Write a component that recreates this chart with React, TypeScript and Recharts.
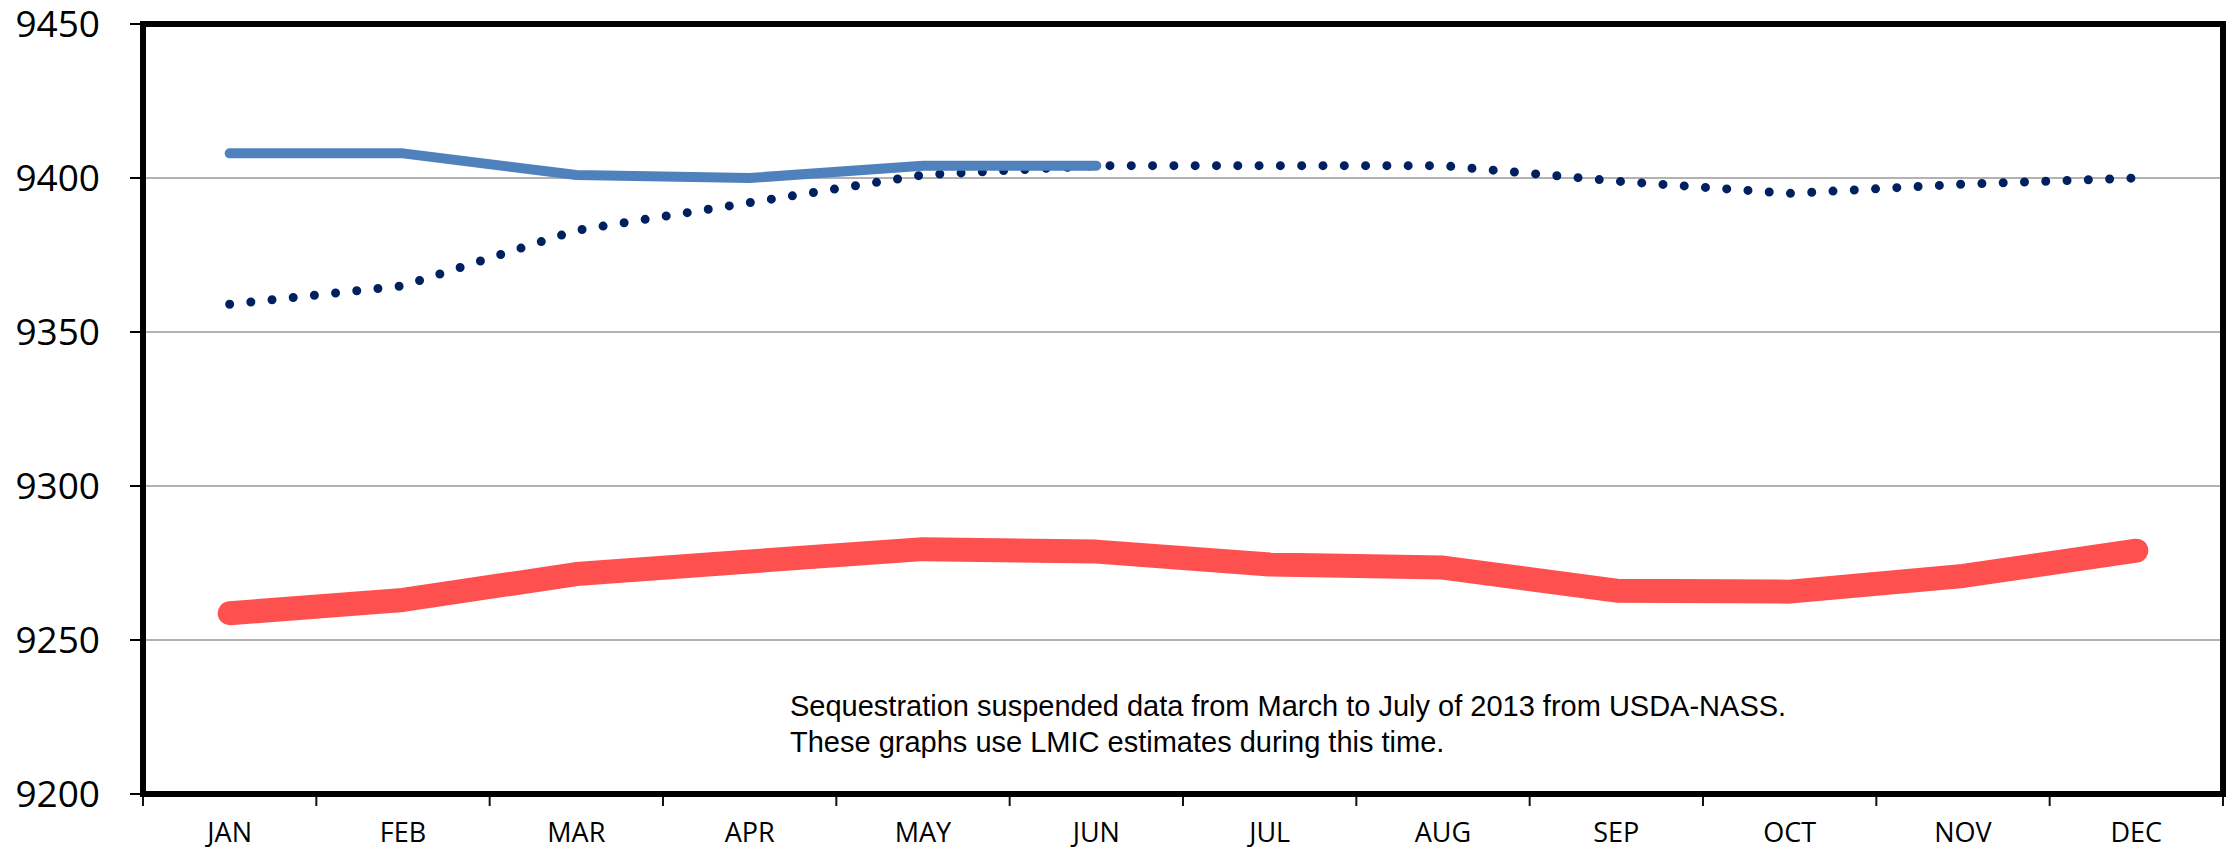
import {
  LineChart,
  Line,
  XAxis,
  YAxis,
  CartesianGrid,
  ReferenceArea,
} from "recharts";

const months = ["JAN", "FEB", "MAR", "APR", "MAY", "JUN", "JUL", "AUG", "SEP", "OCT", "NOV", "DEC"];
// solid blue (current year, ends in June)
const blueSeries = [9408, 9408, 9401, 9400, 9404, 9404, null, null, null, null, null, null];
// dotted navy (average)
const navySeries = [9359, 9365, 9383, 9392, 9401, 9404, 9404, 9404, 9399, 9395, 9398, 9400];
// thick red (prior year)
const redSeries = [9258.7, 9263, 9271.4, 9275.5, 9279.5, 9278.7, 9274.5, 9273.5, 9266, 9265.7, 9270.8, 9279];
const yTicks = [9200, 9250, 9300, 9350, 9400, 9450];
const noteLines = [
  "Sequestration suspended data from March to July of 2013 from USDA-NASS.",
  "These graphs use LMIC estimates during this time.",
];

const data = months.map((m, i) => ({
  month: m,
  blue: blueSeries[i],
  navy: navySeries[i],
  red: redSeries[i],
}));

const WIDTH = 2229;
const HEIGHT = 850;

const MonthTick = (props: any) => {
  const { x, y, payload, index, visibleTicksCount } = props;
  const half = payload && payload.offset ? payload.offset : 2080 / 24;
  const last = index === (visibleTicksCount ?? months.length) - 1;
  return (
    <g>
      <line x1={x - half} x2={x - half} y1={y + 3} y2={y + 12} stroke="#111" strokeWidth={2} />
      {last && <line x1={x + half} x2={x + half} y1={y + 3} y2={y + 12} stroke="#111" strokeWidth={2} />}
      <text x={x} y={y + 48} textAnchor="middle" fill="#000" fontSize={27} fontFamily="'Open Sans', sans-serif">
        {payload.value}
      </text>
    </g>
  );
};

export default function App() {
  return (
    <div style={{ position: "absolute", left: 0, top: 0, width: WIDTH, height: HEIGHT, background: "#fff" }}>
      <LineChart width={WIDTH} height={HEIGHT} data={data} margin={{ top: 24, right: 6, bottom: 0, left: 0 }}>
        <CartesianGrid vertical={false} stroke="#999" strokeWidth={1.5} />
        <XAxis
          dataKey="month"
          scale="band"
          height={56}
          axisLine={false}
          tickLine={false}
          tickSize={0}
          tickMargin={0}
          interval={0}
          tick={<MonthTick />}
        />
        <YAxis
          width={143}
          domain={[9200, 9450]}
          ticks={yTicks}
          allowDataOverflow
          axisLine={false}
          tickLine={{ stroke: "#000", strokeWidth: 2 }}
          tickSize={13}
          tickMargin={30}
          tick={{ fill: "#000", fontSize: 37, fontFamily: "'Open Sans', sans-serif" }}
        />
        <ReferenceArea y1={9200} y2={9450} fill="none" stroke="#000" strokeWidth={6} />
        <Line
          dataKey="red"
          stroke="#FF5050"
          strokeWidth={24}
          strokeLinecap="round"
          strokeLinejoin="round"
          dot={false}
          activeDot={false}
          isAnimationActive={false}
        />
        <Line
          dataKey="navy"
          stroke="#002060"
          strokeWidth={9}
          strokeDasharray="0 21.3"
          strokeLinecap="round"
          dot={false}
          activeDot={false}
          isAnimationActive={false}
        />
        <Line
          dataKey="blue"
          stroke="#4F81BD"
          strokeWidth={10}
          strokeLinecap="round"
          strokeLinejoin="round"
          dot={false}
          activeDot={false}
          connectNulls={false}
          isAnimationActive={false}
        />
      </LineChart>
      <div
        style={{
          position: "absolute",
          left: 790,
          top: 688,
          fontFamily: "'Liberation Sans', Arial, sans-serif",
          fontSize: 29,
          lineHeight: "36px",
          color: "#000",
          whiteSpace: "nowrap",
        }}
      >
        {noteLines.map((t) => (
          <div key={t}>{t}</div>
        ))}
      </div>
    </div>
  );
}
